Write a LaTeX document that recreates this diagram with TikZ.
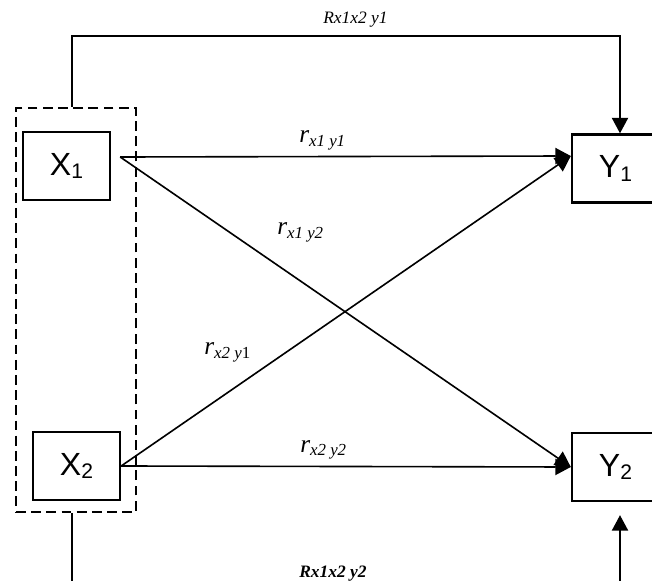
\documentclass[tikz,border=0pt]{standalone}
\usepackage{fontspec}
\setmainfont{Liberation Serif}
\newfontfamily\arialfont{Liberation Sans}
\usetikzlibrary{arrows.meta,positioning}

\newcommand{\varsub}[1]{\raisebox{-2.2pt}{\fontsize{15}{15}\selectfont #1}}
\newcommand{\rsub}[1]{r\raisebox{-2.8pt}{\fontsize{12}{12}\selectfont #1}}

\begin{document}
\begin{tikzpicture}[
  var/.style={draw,line width=1.7pt,minimum width=2.175cm,minimum height=1.7cm,inner sep=0pt,
    font=\arialfont\fontsize{22.8}{24}\selectfont},
  grp/.style={draw,line width=1.7pt,dash pattern=on 7pt off 3.8pt,minimum width=3cm,minimum height=10.1cm,inner sep=0pt},
  rlbl/.style={inner sep=0pt,anchor=base west,font=\fontsize{18}{20}\selectfont\itshape},
  Rlbl/.style={inner sep=0pt,anchor=base west,font=\fontsize{12.4}{14}\selectfont\itshape},
  arr/.style={line width=1.15pt,-{Triangle[length=11pt,width=11.5pt]}}]
\useasboundingbox (0,0) rectangle (16.3,-14.525);
\clip (0,0) rectangle (16.3,-14.525);

% variables
\node[var] (X1) at (1.6625,-4.15) {X\varsub{1}};
\node[var] (X2) at (1.9125,-11.65) {X\varsub{2}};
\node[var] (Y1) at (15.3875,-4.2125) {Y\varsub{1}};
\node[var] (Y2) at (15.3875,-11.675) {Y\varsub{2}};
\node[grp] (G) at (1.9,-7.75) {};

% ends of the paths
\coordinate (X1o) at ([shift={(0.225,0.225)}]X1.east);
\coordinate (Y1i) at ([yshift=0.3125cm]Y1.west);
\coordinate (Y1t) at ([xshift=0.1125cm]Y1.north);
\coordinate (Y2b) at ([xshift=0.1125cm,yshift=-0.325cm]Y2.south);

% single paths
\draw[arr] (X1o) -- (Y1i);
\draw[arr] (X1o) -- (Y2.west);
\draw[arr] (X2.east) -- (Y1i);
\draw[arr] (X2.east) -- (Y2.west);

% joint paths
\draw[arr] ([xshift=-0.1cm]G.north) -- ++(0,1.775) -| (Y1t);
\draw[arr] ([xshift=-0.1cm]G.south) -- ++(0,-2) -| (Y2b);

% labels
\node[rlbl] (rx1y1) at (7.475,-3.575) {\rsub{x1 y1}};
\node[rlbl] (rx1y2) at (6.925,-5.875) {\rsub{x1 y2}};
\node[rlbl] (rx2y1) at (5.1,-8.875) {\rsub{x2 y\textup{1}}};
\node[rlbl] (rx2y2) at (7.5,-11.3) {\rsub{x2 y2}};
\node[Rlbl] (R1) at (8.075,-0.6) {Rx1x2 y1};
\node[Rlbl,font=\fontsize{12.4}{14}\selectfont\bfseries\itshape] (R2) at (7.475,-14.425) {Rx1x2 y2};
\end{tikzpicture}
\end{document}
